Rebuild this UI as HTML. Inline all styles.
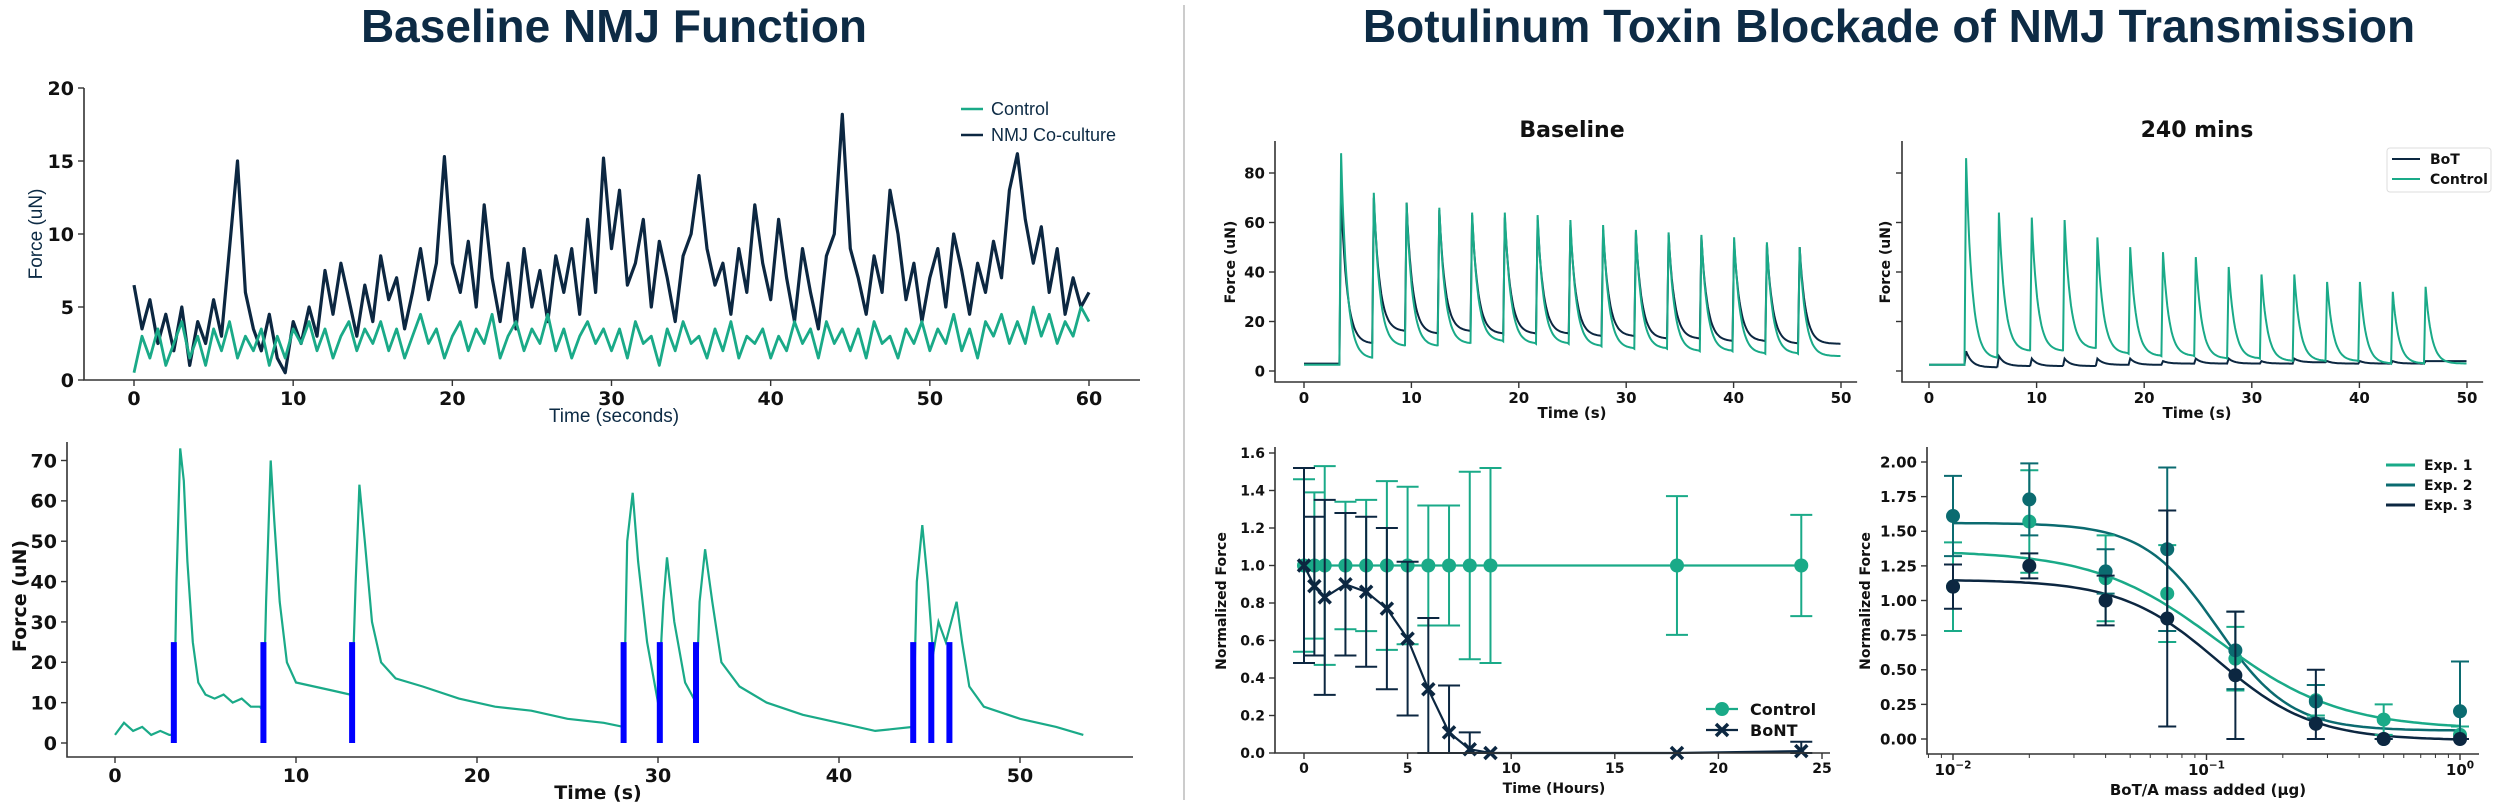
<!DOCTYPE html>
<html><head><meta charset="utf-8"><style>
html,body{margin:0;padding:0;background:#fff;}
svg{display:block;}
.tk{font-family:"DejaVu Sans","Liberation Sans",sans-serif;font-weight:bold;fill:#111;}
</style></head><body>
<svg id="fig" width="2500" height="805" viewBox="0 0 2500 805" xmlns="http://www.w3.org/2000/svg">
<text x="614" y="42" text-anchor="middle" font-family="Liberation Sans, sans-serif" font-weight="bold" font-size="46" fill="#0d2b45">Baseline NMJ Function</text>
<text x="1889" y="42" text-anchor="middle" font-family="Liberation Sans, sans-serif" font-weight="bold" font-size="46" fill="#0d2b45">Botulinum Toxin Blockade of NMJ Transmission</text>
<line x1="1184" y1="5" x2="1184" y2="800" stroke="#cccccc" stroke-width="2"/>
</svg>
<script>
// ---------- DATA ----------
const p1Step = 0.5;
const nmjCoculture = [6.5,3.5,5.5,2.5,4.5,2.0,5.0,1.0,4.0,2.5,5.5,
3.0,9.0,15.0,6.0,3.5,2.0,4.5,1.5,0.5,4.0,
2.5,5.0,3.0,7.5,4.5,8.0,5.5,3.0,6.5,4.0,
8.5,5.5,7.0,3.5,6.0,9.0,5.5,8.0,15.3,8.0,
6.0,9.5,5.0,12.0,7.0,4.0,8.0,3.5,9.0,5.0,
7.5,4.0,8.5,6.0,9.0,4.5,11.0,6.0,15.2,9.0,
13.0,6.5,8.0,11.0,5.0,9.5,7.0,4.0,8.5,10.0,
14.0,9.0,6.5,8.0,4.5,9.0,6.0,12.0,8.0,5.5,
11.0,7.0,4.0,9.0,6.0,3.5,8.5,10.0,18.2,9.0,
7.0,4.5,8.5,6.0,13.0,10.0,5.5,8.0,4.0,7.0,
9.0,5.0,10.0,7.5,4.5,8.0,6.0,9.5,7.0,13.0,
15.5,11.0,8.0,10.5,6.0,9.0,4.5,7.0,5.0,6.0];
const controlBaseline = [0.5,3.0,1.5,3.5,1.0,2.5,4.0,1.5,3.0,1.0,3.5,
2.0,4.0,1.5,3.0,2.0,3.5,1.0,3.0,1.5,3.5,
2.5,4.0,2.0,3.5,1.5,3.0,4.0,2.0,3.5,2.5,
4.0,2.0,3.5,1.5,3.0,4.5,2.5,3.5,1.5,3.0,
4.0,2.0,3.5,2.5,4.5,1.5,3.0,4.0,2.0,3.5,
2.5,4.5,2.0,3.5,1.5,3.0,4.0,2.5,3.5,2.0,
3.5,1.5,4.0,2.5,3.0,1.0,3.5,2.0,4.0,2.5,
3.0,1.5,3.5,2.0,4.0,1.5,3.0,2.5,3.5,1.5,
3.0,2.0,4.0,2.5,3.5,1.5,4.0,2.5,3.5,2.0,
3.5,1.5,4.0,2.5,3.0,1.5,3.5,2.5,4.0,2.0,
3.5,2.5,4.5,2.0,3.5,1.5,4.0,3.0,4.5,2.5,
4.0,2.5,5.0,3.0,4.5,2.5,4.0,3.0,5.0,4.0];
const p1XTicks = [0,10,20,30,40,50,60];
const p1YTicks = [0,5,10,15,20];

const p2Time = [0,0.5,1,1.5,2,2.5,3,3.25,3.4,3.6,3.8,4.0,4.3,4.6,5,5.5,6,6.5,7,7.5,8,8.2,8.35,8.6,8.8,9.1,9.5,10,11,12,13,13.1,13.3,13.5,13.8,14.2,14.7,15.5,17,19,21,23,25,27,28.1,28.3,28.6,28.9,29.4,30.0,30.3,30.5,30.9,31.5,32.1,32.3,32.6,33,33.5,34.5,36,38,40,42,44.1,44.3,44.6,44.9,45.2,45.5,45.9,46.2,46.5,46.8,47.2,48,50,52,53.5];
const p2Force = [2,5,3,4,2,3,2,2,40,73,65,45,25,15,12,11,12,10,11,9,9,8,35,70,55,35,20,15,14,13,12,12,40,64,50,30,20,16,14,11,9,8,6,5,4,50,62,45,25,10,35,46,30,15,10,35,48,35,20,14,10,7,5,3,4,40,54,40,22,30,25,30,35,25,14,9,6,4,2];
const p2Stim = [3.25,8.2,13.1,28.1,30.1,32.1,44.1,45.1,46.1];
const p2StimHeight = 25;
const p2XTicks = [0,10,20,30,40,50];
const p2YTicks = [0,10,20,30,40,50,60,70];

const twitchStim = [3.3,6.35,9.4,12.45,15.5,18.55,21.6,24.65,27.7,30.75,33.8,36.85,39.9,42.95,46.0];
const baseCtrlPeak = [88,72,68,66,64,64,63,61,59,57,56,55,54,52,50];
const baseCtrlTrough = [5,10,10,11,12,11,11,10,9,9,8,8,7,7,6];
const baseBotPeak = [72,70,68,65,63,62,61,59,57,56,55,54,52,51,50];
const baseBotTrough = [11,16,15,16,15,15,15,14,14,13,13,12,12,11,11];
const m240CtrlPeak = [86,64,62,61,54,50,48,46,42,39,39,36,36,32,34];
const m240CtrlTrough = [5,8,8,9,7,6,6,5,5,4,4,4,3,3,3];
const m240BotPeak = [8,6,5,5,5,5,4,5,5,4,5,4,4,4,4];
const m240BotTrough = [1.5,2,2,2,2.5,2.5,3,3,3,3,3.5,3,3,3,4];
const twitchPre = [2.5,3,2.5,2.5];
const twitchXTicks = [0,10,20,30,40,50];
const twitchYTicks = [0,20,40,60,80];

const hours = [0,0.5,1,2,3,4,5,6,7,8,9,18,24];
const ctrlNorm = [1,1,1,1,1,1,1,1,1,1,1,1,1];
const ctrlErr = [0.46,0.39,0.53,0.34,0.35,0.45,0.42,0.32,0.32,0.50,0.52,0.37,0.27];
const bontNorm = [1.0,0.89,0.83,0.90,0.86,0.77,0.61,0.34,0.11,0.02,0.0,0.0,0.01];
const bontErr = [0.52,0.37,0.52,0.38,0.40,0.43,0.41,0.38,0.25,0.09,0.0,0.0,0.05];
const p5XTicks = [0,5,10,15,20,25];
const p5YTicks = [0,0.2,0.4,0.6,0.8,1.0,1.2,1.4,1.6];

const doses = [0.01,0.02,0.04,0.07,0.13,0.27,0.5,1.0];
const exp1Mean = [1.10,1.57,1.16,1.05,0.58,0.28,0.14,0.03];
const exp1Err = [0.32,0.37,0.31,0.35,0.23,0.11,0.11,0.06];
const exp2Mean = [1.61,1.73,1.21,1.37,0.64,0.27,0.00,0.20];
const exp2Err = [0.29,0.26,0.16,0.59,0.28,0.12,0.0,0.36];
const exp3Mean = [1.10,1.25,1.00,0.87,0.46,0.11,0.00,0.00];
const exp3Err = [0.16,0.09,0.18,0.78,0.46,0.39,0.0,0.0];
const fitTop = [1.36,1.56,1.15];
const fitBottom = [0.07,0.06,-0.01];
const fitIC50 = [0.11,0.11,0.11];
const fitHill = [1.8,3.0,2.3];
const p6YTicks = [0,0.25,0.5,0.75,1.0,1.25,1.5,1.75,2.0];
const p6XTicks = [-2,-1,0];

// ---------- DRAWING ----------
const NS = 'http://www.w3.org/2000/svg';
const svg = document.getElementById('fig');
const GREEN = '#1aaa88', NAVY = '#0c2741', TEAL = '#0b6b70';
function mk(tag, attrs, parent) {
  const e = document.createElementNS(NS, tag);
  for (const k in attrs) e.setAttribute(k, attrs[k]);
  (parent || svg).appendChild(e);
  return e;
}
function lin(d0, d1, r0, r1) { return v => r0 + (v - d0) * (r1 - r0) / (d1 - d0); }
function pathFrom(xs, ys, sx, sy) {
  let d = '';
  for (let i = 0; i < xs.length; i++) d += (i ? 'L' : 'M') + sx(xs[i]).toFixed(1) + ',' + sy(ys[i]).toFixed(1);
  return d;
}
function axes(g, o) {
  const sp = mk('path', {d: `M${o.left},${o.top}V${o.bottom}H${o.right}`, fill: 'none', stroke: '#333', 'stroke-width': 1.6}, g);
  
  
  o.xt.forEach(v => {
    const x = o.sx(v);
    const t = mk('line', {x1: x, x2: x, y1: o.bottom, y2: o.bottom + 6, stroke: '#333', 'stroke-width': 1.4}, g);
    
    
    const l = mk('text', {x: x, y: o.bottom + 6 + o.fs, 'text-anchor': 'middle', 'font-size': o.fs, class: 'tk'}, g);
    
    
    if (o.xfmt === 'log') {
      l.textContent = '10';
      const s = mk('tspan', {dy: -o.fs * 0.45, 'font-size': o.fs * 0.7}, l);
      s.textContent = v < 0 ? '\u2212' + (-v) : String(v);
    } else l.textContent = o.xfmt ? o.xfmt(v) : String(v);
  });
  o.yt.forEach(v => {
    const y = o.sy(v);
    const t = mk('line', {x1: o.left - 6, x2: o.left, y1: y, y2: y, stroke: '#333', 'stroke-width': 1.4}, g);
    
    
    if (!o.noYLabels) {
      const l = mk('text', {x: o.left - 10, y: y + o.fs * 0.36, 'text-anchor': 'end', 'font-size': o.fs, class: 'tk'}, g);
      
      
      l.textContent = o.yfmt ? o.yfmt(v) : String(v);
    }
  });
}
function label(g, txt, x, y, fs, rot, extra, name) {
  const a = Object.assign({x: x, y: y, 'text-anchor': 'middle', 'font-size': fs, class: 'tk'}, extra || {});
  if (rot) a.transform = `rotate(-90 ${x} ${y})`;
  const t = mk('text', a, g);
  
  
  t.textContent = txt;
  return t;
}

// ---- Panel 1 ----
(function () {
  const g = mk('g', {});
  
  
  const sx = lin(0, 60, 134, 1089), sy = lin(0, 20, 380, 88);
  const ts = controlBaseline.map((_, i) => i * p1Step);
  const n = mk('path', {d: pathFrom(ts, nmjCoculture, sx, sy), fill: 'none', stroke: NAVY, 'stroke-width': 3.2, 'stroke-linejoin': 'round'}, g);
  
  
  const c = mk('path', {d: pathFrom(ts, controlBaseline, sx, sy), fill: 'none', stroke: GREEN, 'stroke-width': 2.8, 'stroke-linejoin': 'round'}, g);
  
  
  axes(g, {name: 'p1', left: 84, right: 1140, top: 88, bottom: 380, sx, sy, xt: p1XTicks, yt: p1YTicks, fs: 19});
  label(g, 'Time (seconds)', 614, 422, 19, false, {class: '', 'font-family': 'Liberation Sans, sans-serif', fill: '#0d2b45'}, 'x-axis-title');
  label(g, 'Force (uN)', 42, 234, 19, true, {class: '', 'font-family': 'Liberation Sans, sans-serif', fill: '#0d2b45'}, 'y-axis-title');
  [['Control', GREEN, 109], ['NMJ Co-culture', NAVY, 135]].forEach(e => {
    const l = mk('line', {x1: 961, x2: 983, y1: e[2], y2: e[2], stroke: e[1], 'stroke-width': 2.5}, g);
    
    
    const t = mk('text', {x: 991, y: e[2] + 6, 'font-size': 18, 'font-family': 'Liberation Sans, sans-serif', fill: '#0d2b45'}, g);
    
    
    t.textContent = e[0];
  });
})();

// ---- Panel 2 ----
(function () {
  const g = mk('g', {});
  
  
  const sx = lin(0, 50, 115, 1020), sy = lin(0, 70, 743, 460.5);
  const tr = mk('path', {d: pathFrom(p2Time, p2Force, sx, sy), fill: 'none', stroke: GREEN, 'stroke-width': 2.2}, g);
  
  
  p2Stim.forEach(t => {
    const r = mk('rect', {x: sx(t) - 3, y: sy(p2StimHeight), width: 6, height: sy(0) - sy(p2StimHeight), fill: '#0000ff'}, g);
    
    
  });
  axes(g, {name: 'p2', left: 67, right: 1133, top: 442, bottom: 757, sx, sy, xt: p2XTicks, yt: p2YTicks, fs: 19});
  label(g, 'Time (s)', 598, 799, 19, false, null, 'x-axis-title');
  label(g, 'Force (uN)', 26, 596, 19, true, null, 'y-axis-title');
})();

// ---- Twitch panels ----
function twitch(ctrlP, ctrlT, botP, botT, preC, preB) {
  const tC = [0], vC = [preC], tB = [0], vB = [preB];
  twitchStim.forEach((s, i) => {
    const end = i + 1 < twitchStim.length ? twitchStim[i + 1] : 50;
    const prevC = i ? ctrlT[i - 1] : preC, prevB = i ? botT[i - 1] : preB;
    tC.push(s); vC.push(prevC); tB.push(s); vB.push(prevB);
    for (let t = s + 0.15; t < end; t += 0.1) {
      const k = Math.exp(-(t - s - 0.15) / 0.55);
      tC.push(t); vC.push(ctrlT[i] + (ctrlP[i] - ctrlT[i]) * k);
      tB.push(t); vB.push(botT[i] + (botP[i] - botT[i]) * k);
    }
  });
  return [tC, vC, tB, vB];
}
function twitchPanel(left, x0, x50, title, cx, data, ylabels, name) {
  const g = mk('g', {});
  
  
  const sx = lin(0, 50, x0, x50), sy = lin(0, 80, 371, 173);
  const b = mk('path', {d: pathFrom(data[2], data[3], sx, sy), fill: 'none', stroke: NAVY, 'stroke-width': 2}, g);
  
  
  const c = mk('path', {d: pathFrom(data[0], data[1], sx, sy), fill: 'none', stroke: GREEN, 'stroke-width': 2}, g);
  
  
  axes(g, {name: name, left: left, right: sx(51.5), top: 141, bottom: 382, sx, sy, xt: twitchXTicks, yt: twitchYTicks, fs: 15, noYLabels: !ylabels});
  label(g, title, cx, 137, 22, false, null, 'panel-title');
  label(g, 'Time (s)', cx, 418, 15, false, null, 'x-axis-title');
  label(g, 'Force (uN)', ylabels ? left - 40 : left - 12, 262, 14, true, null, 'y-axis-title');
  return g;
}
twitchPanel(1275, 1304, 1841, 'Baseline', 1572, twitch(baseCtrlPeak, baseCtrlTrough, baseBotPeak, baseBotTrough, twitchPre[0], twitchPre[1]), true, 'baseline-twitch-plot');
const g4 = twitchPanel(1902, 1929, 2467, '240 mins', 2197, twitch(m240CtrlPeak, m240CtrlTrough, m240BotPeak, m240BotTrough, twitchPre[2], twitchPre[3]), false, 'twitch-240-plot');
(function () {
  const box = mk('rect', {x: 2387, y: 148, width: 104, height: 44, rx: 3, fill: '#fff', stroke: '#ddd', 'stroke-width': 1}, g4);
  
  
  [['BoT', NAVY, 159], ['Control', GREEN, 179]].forEach(e => {
    const l = mk('line', {x1: 2392, x2: 2420, y1: e[2], y2: e[2], stroke: e[1], 'stroke-width': 2}, g4);
    
    
    const t = mk('text', {x: 2430, y: e[2] + 5, 'font-size': 14, class: 'tk'}, g4);
    
    
    t.textContent = e[0];
  });
})();

// ---- Panel 5 ----
(function () {
  const g = mk('g', {});
  
  
  const sx = lin(0, 25, 1304, 1822), sy = lin(0, 1.6, 753, 453);
  function series(vals, errs, col, marker, nm) {
    vals.forEach((v, i) => {
      const x = sx(hours[i]);
      const lo = Math.max(0, v - errs[i]), hi = v + errs[i];
      const e = mk('path', {d: `M${x},${sy(lo)}V${sy(hi)}M${x - 11},${sy(lo)}H${x + 11}M${x - 11},${sy(hi)}H${x + 11}`, stroke: col, 'stroke-width': 2, fill: 'none'}, g);
      
      
    });
    const ln = mk('path', {d: pathFrom(hours, vals, sx, sy), fill: 'none', stroke: col, 'stroke-width': 2.2}, g);
    
    
    vals.forEach((v, i) => {
      const x = sx(hours[i]), y = sy(v);
      let m;
      if (marker === 'o') m = mk('circle', {cx: x, cy: y, r: 7, fill: col}, g);
      else m = mk('path', {d: `M${x - 6},${y - 6}L${x + 6},${y + 6}M${x - 6},${y + 6}L${x + 6},${y - 6}`, stroke: col, 'stroke-width': 3.5}, g);
      
      
    });
  }
  series(ctrlNorm, ctrlErr, GREEN, 'o', 'control');
  series(bontNorm, bontErr, NAVY, 'x', 'bont');
  axes(g, {name: 'p5', left: 1275, right: 1830, top: 447, bottom: 753, sx, sy, xt: p5XTicks, yt: p5YTicks, fs: 14, yfmt: v => v.toFixed(1)});
  label(g, 'Time (Hours)', 1554, 793, 14, false, null, 'x-axis-title');
  label(g, 'Normalized Force', 1226, 601, 14, true, null, 'y-axis-title');
  [['Control', GREEN, 709, 'o'], ['BoNT', NAVY, 730, 'x']].forEach(e => {
    const l = mk('line', {x1: 1706, x2: 1738, y1: e[2], y2: e[2], stroke: e[1], 'stroke-width': 2.2}, g);
    
    
    let m;
    if (e[3] === 'o') m = mk('circle', {cx: 1722, cy: e[2], r: 7, fill: e[1]}, g);
    else m = mk('path', {d: `M1716,${e[2] - 6}L1728,${e[2] + 6}M1716,${e[2] + 6}L1728,${e[2] - 6}`, stroke: e[1], 'stroke-width': 3.5}, g);
    
    
    const t = mk('text', {x: 1750, y: e[2] + 6, 'font-size': 16, class: 'tk'}, g);
    
    
    t.textContent = e[0];
  });
})();

// ---- Panel 6 ----
(function () {
  const g = mk('g', {});
  
  
  const sxl = lin(-2, 0, 1953, 2460), sx = d => sxl(Math.log10(d)), sy = lin(0, 2, 739, 462);
  const cols = [GREEN, TEAL, NAVY];
  const means = [exp1Mean, exp2Mean, exp3Mean], errs = [exp1Err, exp2Err, exp3Err];
  for (let k = 0; k < 3; k++) {
    let d = '';
    for (let i = 0; i <= 120; i++) {
      const lx = -2 + i * 2 / 120, x = Math.pow(10, lx);
      const v = fitBottom[k] + (fitTop[k] - fitBottom[k]) / (1 + Math.pow(x / fitIC50[k], fitHill[k]));
      d += (i ? 'L' : 'M') + sxl(lx).toFixed(1) + ',' + sy(v).toFixed(1);
    }
    const c = mk('path', {d: d, fill: 'none', stroke: cols[k], 'stroke-width': 2.5}, g);
    
    
  }
  for (let k = 0; k < 3; k++) {
    means[k].forEach((v, i) => {
      const x = sx(doses[i]);
      const lo = Math.max(0, v - errs[k][i]), hi = v + errs[k][i];
      const e = mk('path', {d: `M${x},${sy(lo)}V${sy(hi)}M${x - 9},${sy(lo)}H${x + 9}M${x - 9},${sy(hi)}H${x + 9}`, stroke: cols[k], 'stroke-width': 2, fill: 'none'}, g);
      
      
      const m = mk('circle', {cx: x, cy: sy(v), r: 7, fill: cols[k]}, g);
      
      
    });
  }
  axes(g, {name: 'p6', left: 1927, right: 2479, top: 447, bottom: 754, sx: sxl, sy, xt: p6XTicks, yt: p6YTicks, fs: 15, xfmt: 'log', yfmt: v => v.toFixed(2)});
  for (let dec = -3; dec <= 0; dec++) for (let m = 2; m <= 9; m++) {
    const lx = dec + Math.log10(m), x = sxl(lx);
    if (x < 1927 || x > 2479) continue;
    const t = mk('line', {x1: x, x2: x, y1: 754, y2: 758, stroke: '#333', 'stroke-width': 1}, g);
    
    
  }
  label(g, 'BoT/A mass added (\u00b5g)', 2208, 795, 15, false, null, 'x-axis-title');
  label(g, 'Normalized Force', 1870, 601, 14, true, null, 'y-axis-title');
  [['Exp. 1', GREEN, 465], ['Exp. 2', TEAL, 485], ['Exp. 3', NAVY, 505]].forEach(e => {
    const l = mk('line', {x1: 2386, x2: 2415, y1: e[2], y2: e[2], stroke: e[1], 'stroke-width': 3}, g);
    
    
    const t = mk('text', {x: 2424, y: e[2] + 5, 'font-size': 14, class: 'tk'}, g);
    
    
    t.textContent = e[0];
  });
})();
</script>
</body></html>
